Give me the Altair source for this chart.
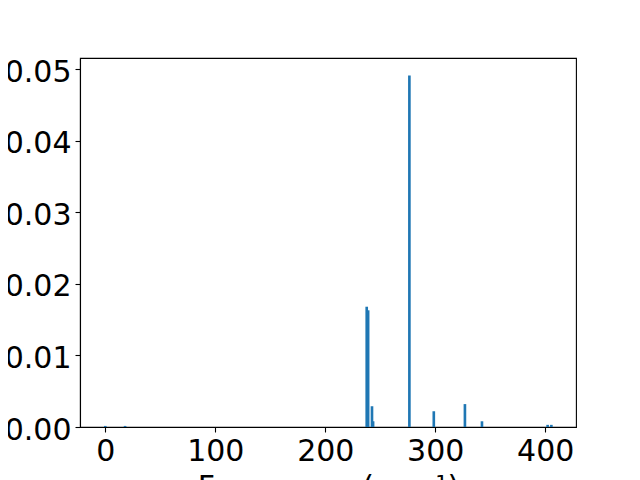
import altair as alt
import pandas as pd

freqs = [0, 18, 237.7, 239, 242.5, 243.5, 276.5, 298.7, 327, 342.5, 402.2, 405.6]
intens = [0.00015, 0.00015, 0.0168, 0.0163, 0.0029, 0.0008, 0.0491, 0.0022, 0.0032, 0.0008, 0.0003, 0.0003]
x_ticks = [0, 100, 200, 300, 400]
y_ticks = [0.0, 0.01, 0.02, 0.03, 0.04, 0.05]

df = pd.DataFrame({"freq": freqs, "intensity": intens})

font = "DejaVu Sans"
fs = 30

chart = (
    alt.Chart(df)
    .transform_calculate(x0="datum.freq - 1.2", x1="datum.freq + 1.2")
    .mark_bar(color="#1f77b4", clip=True)
    .encode(
        x=alt.X(
            "x0:Q",
            scale=alt.Scale(domain=[-23, 428], nice=False, zero=False),
            axis=alt.Axis(
                values=x_ticks,
                title="Frequency (cm⁻¹)",
                format="d",
                grid=False,
                labelFontSize=fs,
                titleFontSize=fs,
                labelFont=font,
                titleFont=font,
                titleFontWeight="normal",
                labelColor="black",
                titleColor="black",
                domainColor="black",
                tickColor="black",
                tickSize=5,
                tickWidth=1.1,
                domainWidth=1.1,
                labelPadding=4,
                titlePadding=6,
            ),
        ),
        x2="x1:Q",
        y=alt.Y(
            "intensity:Q",
            scale=alt.Scale(domain=[0, 0.05154], nice=False),
            axis=alt.Axis(
                values=y_ticks,
                format=".2f",
                title=None,
                grid=False,
                labelFontSize=fs,
                labelFont=font,
                labelColor="black",
                domainColor="black",
                tickColor="black",
                tickSize=5,
                tickWidth=1.1,
                domainWidth=1.1,
                labelPadding=4,
                labelOffset=3,
            ),
        ),
        y2=alt.datum(0),
    )
    .properties(
        width=496,
        height=369,
        background="white",
        autosize=alt.AutoSizeParams(type="none"),
        padding={"left": 72, "top": 50, "right": 56, "bottom": 53},
    )
    .configure_view(stroke="black", strokeWidth=1.1)
)

chart.save("out.html", embed_options={"renderer": "svg", "actions": False})
